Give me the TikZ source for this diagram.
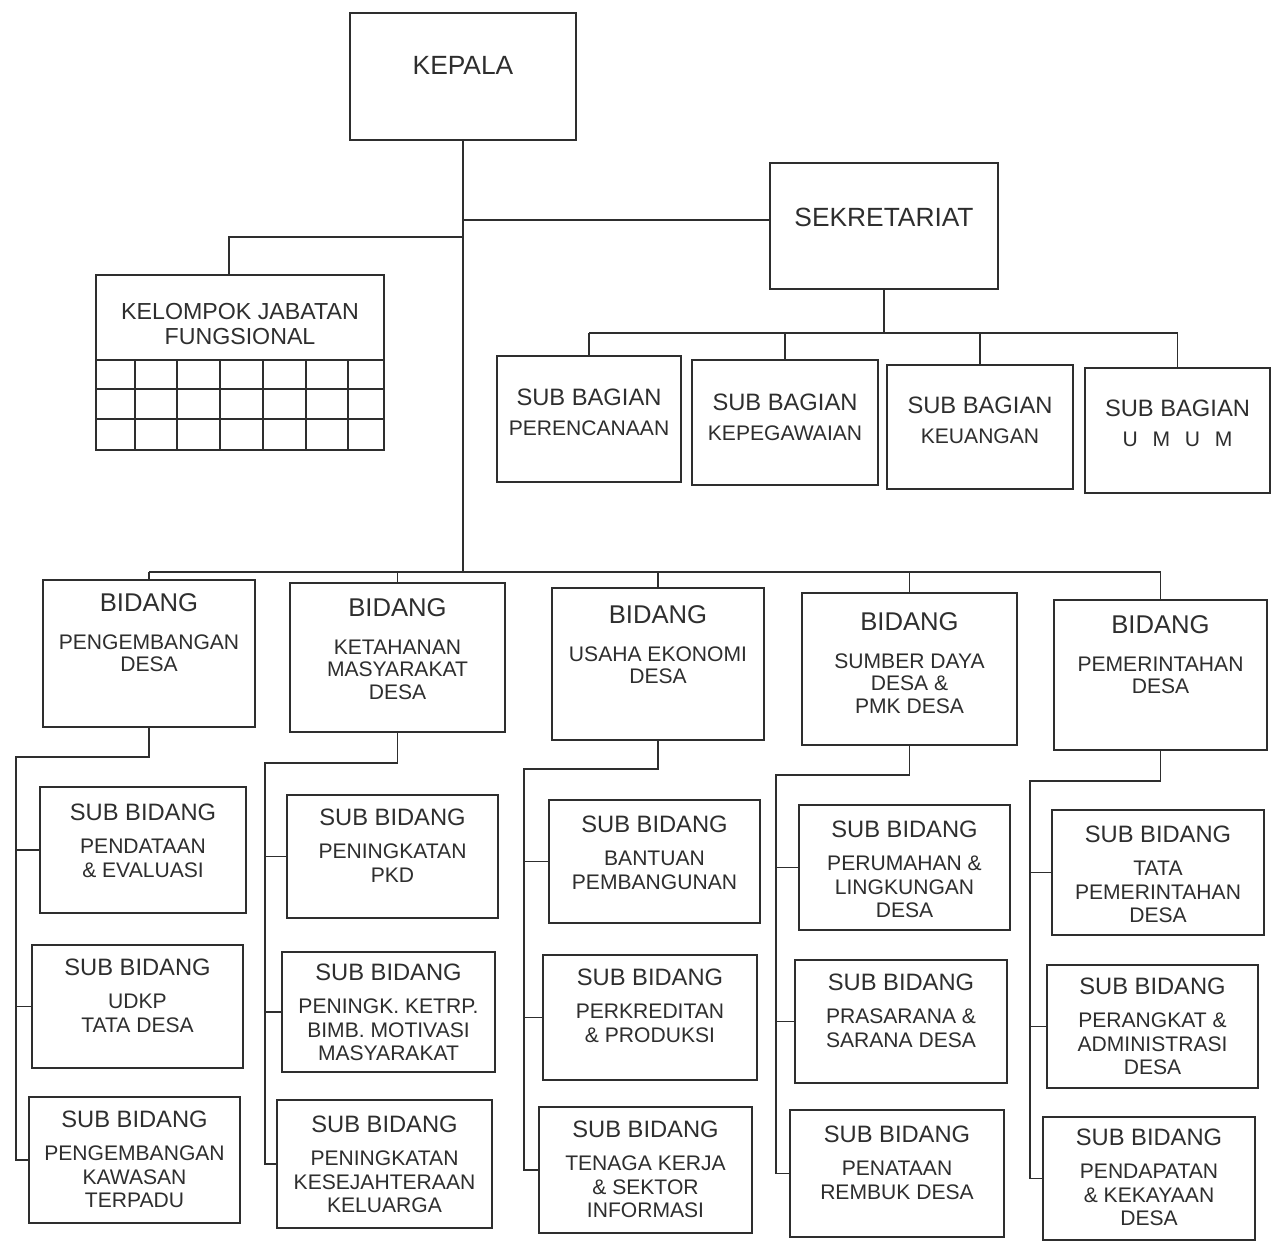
\documentclass[tikz,border=0pt]{standalone}
\usepackage{fontspec}
\setmainfont{Liberation Sans}
\usetikzlibrary{fit}
\definecolor{ink}{HTML}{2E2E2E}
\newcommand\fA{\fontsize{15}{18}\selectfont}
\newcommand\fB{\fontsize{14.6}{18}\selectfont}
\newcommand\fC{\fontsize{13.5}{16}\selectfont}
\tikzset{
  line/.style={draw=ink, line width=1.1pt},
  box/.style={draw=ink, line width=1.1pt, inner sep=0pt, outer sep=0pt},
  txt/.style={text=ink, inner sep=0pt, outer sep=0pt, align=center, anchor=north,
              font=\fontsize{12}{13.4}\selectfont},
  btxt/.style={txt, font=\fontsize{12}{12.9}\selectfont},
}
\begin{document}
\begin{tikzpicture}[x=0.02cm,y=-0.02cm]
\useasboundingbox (0,0) rectangle (1274,1241);
\fill[white] (0,0) rectangle (1274,1241);

% ---------- top level ----------
\node[box, fit={(350,13) (576,140)}] (kep) {};
\node[txt, anchor=center, font=\fA] (kept) at (kep.center |- 0,65) {KEPALA};

\node[box, fit={(770,163) (998,289)}] (sek) {};
\node[txt, anchor=center, font=\fA] (sekt) at (sek.center |- 0,217) {SEKRETARIAT};

\node[box, fit={(96,275) (384,450)}] (kjf) {};
\node[txt, font=\fontsize{13.2}{14.2}\selectfont] (kjft) at (kjf.north |- 0,303.5) {KELOMPOK JABATAN\\FUNGSIONAL};
% grid of the functional group box
\foreach \yy in {360,389,419} \draw[line] (kjf.west |- 0,\yy) -- (kjf.east |- 0,\yy);
\foreach \xx in {135,177,220,263,306,348} \draw[line] (\xx,360) -- (kjf.south -| \xx,0);

% ---------- sub bagian ----------
\node[box, fit={(497,356) (681,482)}] (sb1) {};
\node[box, fit={(692,360) (878,485)}] (sb2) {};
\node[box, fit={(887,365) (1073,489)}] (sb3) {};
\node[box, fit={(1085,368) (1270,493)}] (sb4) {};
\node[txt] (sb1t) at (sb1.north |- 0,389) {{\fC SUB BAGIAN}\\[3.4pt]PERENCANAAN};
\node[txt] (sb2t) at (sb2.north |- 0,394) {{\fC SUB BAGIAN}\\[3.4pt]KEPEGAWAIAN};
\node[txt] (sb3t) at (sb3.north |- 0,397) {{\fC SUB BAGIAN}\\[3.4pt]KEUANGAN};
\node[txt] (sb4t) at (sb4.north |- 0,400) {{\fC SUB BAGIAN}\\[3.4pt]U~\hspace{0.42em}M~\hspace{0.42em}U~\hspace{0.42em}M};

% ---------- bidang ----------
\node[box, fit={(43,580) (255,727)}] (B1) {};
\node[box, fit={(290,583) (505,732)}] (B2) {};
\node[box, fit={(552,588) (764,740)}] (B3) {};
\node[box, fit={(802,593) (1017,745)}] (B4) {};
\node[box, fit={(1054,600) (1267,750)}] (B5) {};
\node[btxt] (B1t) at (B1.north |- 0,593.5) {{\fB BIDANG}\\[8.6pt]PENGEMBANGAN\\DESA};
\node[btxt] (B2t) at (B2.north |- 0,598.5) {{\fB BIDANG}\\[8.6pt]KETAHANAN\\MASYARAKAT\\DESA};
\node[btxt] (B3t) at (B3.north |- 0,605.5) {{\fB BIDANG}\\[8.6pt]USAHA EKONOMI\\DESA};
\node[btxt] (B4t) at (B4.north |- 0,612.5) {{\fB BIDANG}\\[8.6pt]SUMBER DAYA\\DESA \&\\PMK DESA};
\node[btxt] (B5t) at (B5.north |- 0,615.5) {{\fB BIDANG}\\[8.6pt]PEMERINTAHAN\\DESA};

% ---------- sub bidang ----------
\node[box, fit={(40,787) (246,913)}] (S1-a) {};
\node[box, fit={(32,945) (243,1068)}] (S1-b) {};
\node[box, fit={(29,1097) (240,1223)}] (S1-c) {};
\node[box, fit={(287,795) (498,918)}] (S2-a) {};
\node[box, fit={(282,952) (495,1072)}] (S2-b) {};
\node[box, fit={(277,1100) (492,1228)}] (S2-c) {};
\node[box, fit={(549,800) (760,923)}] (S3-a) {};
\node[box, fit={(543,955) (757,1080)}] (S3-b) {};
\node[box, fit={(539,1107) (752,1233)}] (S3-c) {};
\node[box, fit={(799,805) (1010,930)}] (S4-a) {};
\node[box, fit={(795,960) (1007,1083)}] (S4-b) {};
\node[box, fit={(790,1110) (1004,1237)}] (S4-c) {};
\node[box, fit={(1052,810) (1264,935)}] (S5-a) {};
\node[box, fit={(1047,965) (1258,1088)}] (S5-b) {};
\node[box, fit={(1043,1117) (1255,1240)}] (S5-c) {};

\node[txt] (S1-at) at (S1-a.north |- 0,804) {{\fC SUB BIDANG}\\[5.4pt]PENDATAAN\\\& EVALUASI};
\node[txt] (S1-bt) at (S1-b.north |- 0,959) {{\fC SUB BIDANG}\\[5.4pt]UDKP\\TATA DESA};
\node[txt] (S1-ct) at (S1-c.north |- 0,1111) {{\fC SUB BIDANG}\\[5.4pt]PENGEMBANGAN\\KAWASAN\\TERPADU};
\node[txt] (S2-at) at (S2-a.north |- 0,809) {{\fC SUB BIDANG}\\[5.4pt]PENINGKATAN\\PKD};
\node[txt] (S2-bt) at (S2-b.north |- 0,964) {{\fC SUB BIDANG}\\[5.4pt]PENINGK. KETRP.\\BIMB. MOTIVASI\\MASYARAKAT};
\node[txt] (S2-ct) at (S2-c.north |- 0,1116) {{\fC SUB BIDANG}\\[5.4pt]PENINGKATAN\\KESEJAHTERAAN\\KELUARGA};
\node[txt] (S3-at) at (S3-a.north |- 0,816) {{\fC SUB BIDANG}\\[5.4pt]BANTUAN\\PEMBANGUNAN};
\node[txt] (S3-bt) at (S3-b.north |- 0,969) {{\fC SUB BIDANG}\\[5.4pt]PERKREDITAN\\\& PRODUKSI};
\node[txt] (S3-ct) at (S3-c.north |- 0,1121) {{\fC SUB BIDANG}\\[5.4pt]TENAGA KERJA\\\& SEKTOR\\INFORMASI};
\node[txt] (S4-at) at (S4-a.north |- 0,821) {{\fC SUB BIDANG}\\[5.4pt]PERUMAHAN \&\\LINGKUNGAN\\DESA};
\node[txt] (S4-bt) at (S4-b.north |- 0,974) {{\fC SUB BIDANG}\\[5.4pt]PRASARANA \&\\SARANA DESA};
\node[txt] (S4-ct) at (S4-c.north |- 0,1126) {{\fC SUB BIDANG}\\[5.4pt]PENATAAN\\REMBUK DESA};
\node[txt] (S5-at) at (S5-a.north |- 0,826) {{\fC SUB BIDANG}\\[5.4pt]TATA\\PEMERINTAHAN\\DESA};
\node[txt] (S5-bt) at (S5-b.north |- 0,978) {{\fC SUB BIDANG}\\[5.4pt]PERANGKAT \&\\ADMINISTRASI\\DESA};
\node[txt] (S5-ct) at (S5-c.north |- 0,1129) {{\fC SUB BIDANG}\\[5.4pt]PENDAPATAN\\\& KEKAYAAN\\DESA};

% ---------- connectors ----------
\coordinate (busL) at (B1.north |- 0,572);
\coordinate (busR) at (B5.north |- 0,572);
\draw[line] (kep.south) -- (kep.south |- busL);
\draw[line] (busL) -- (busR);
\foreach \b in {B1,B2,B3,B4,B5} \draw[line] (\b.north |- busL) -- (\b.north);

\coordinate (skc) at (sek.west |- 0,220);
\draw[line] (kep.south |- skc) -- (skc);
\coordinate (kjc) at (229,237);
\draw[line] (kep.south |- kjc) -- (kjc) -- (kjc |- kjf.north);

\coordinate (sbus) at (sek.south |- 0,333);
\draw[line] (sek.south) -- (sbus);
\draw[line] (sb1.north |- sbus) -- (sb4.north |- sbus);
\foreach \b in {sb1,sb2,sb3,sb4} \draw[line] (\b.north |- sbus) -- (\b.north);

\foreach \c/\x/\y in {1/16/757, 2/265/763, 3/524/769, 4/776/775, 5/1030/781} {
  \coordinate (k\c) at (\x,\y);
  \draw[line] (B\c.south) |- (k\c) -- (k\c |- S\c-c.west) -- (S\c-c.west);
  \draw[line] (k\c |- S\c-a.west) -- (S\c-a.west);
  \draw[line] (k\c |- S\c-b.west) -- (S\c-b.west);
}
\end{tikzpicture}
\end{document}
